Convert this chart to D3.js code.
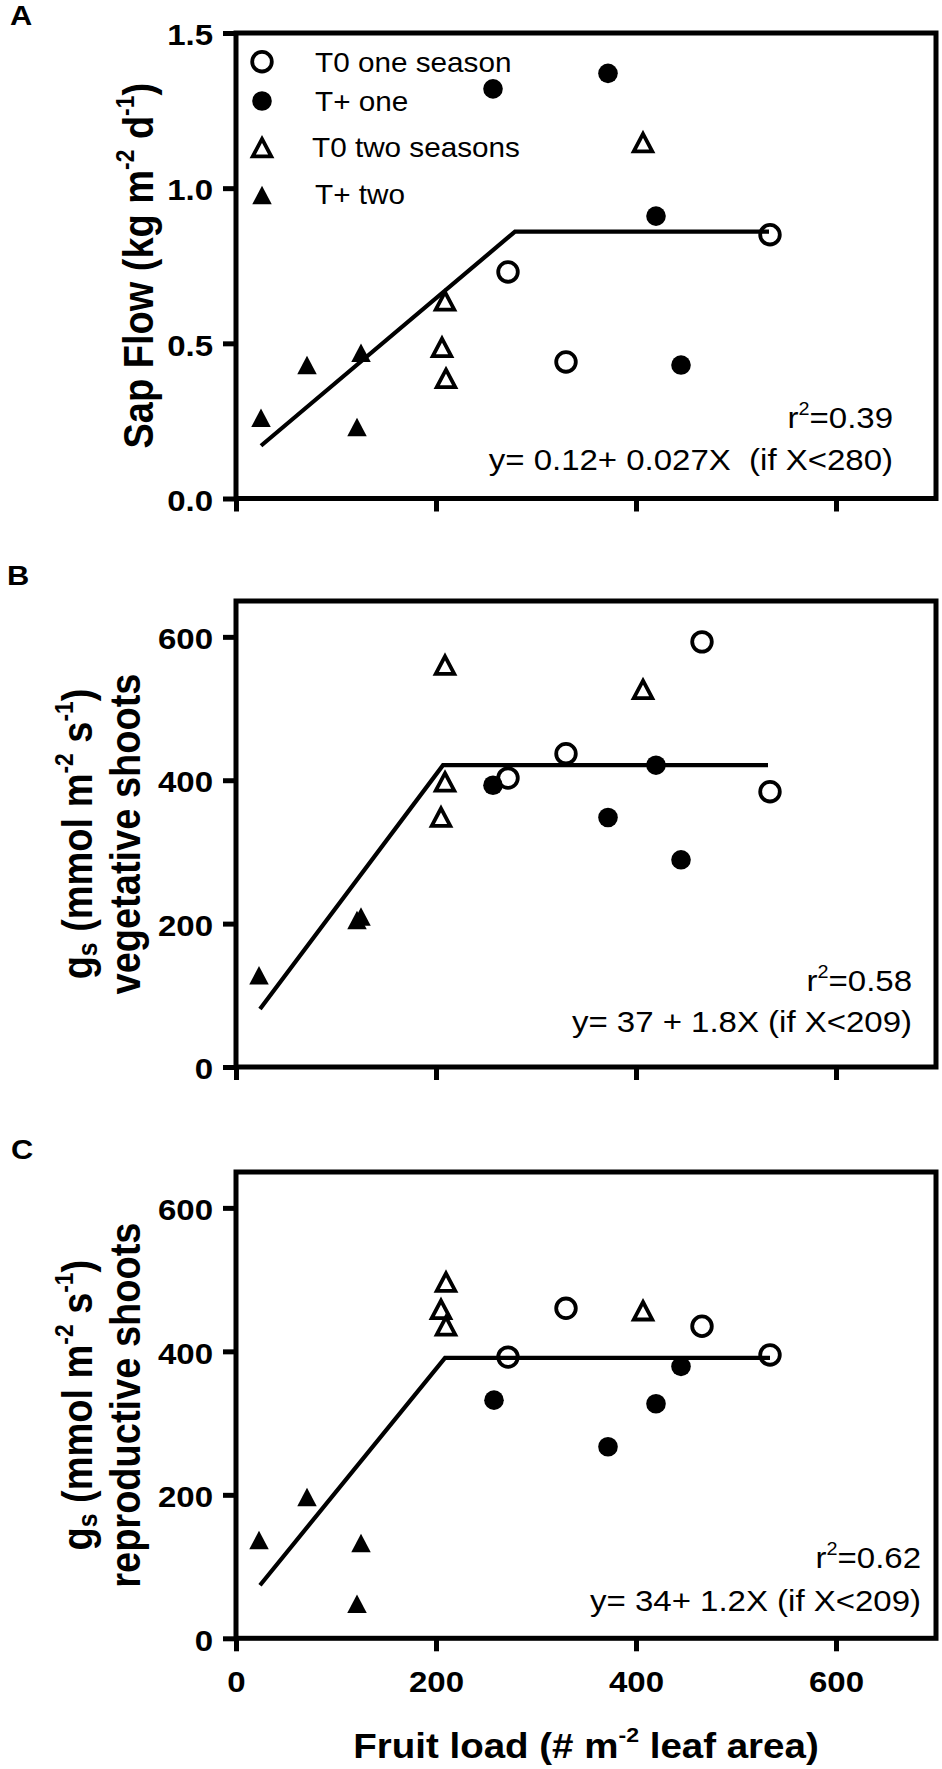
<!DOCTYPE html>
<html>
<head>
<meta charset="utf-8">
<script src="https://cdn.jsdelivr.net/npm/d3@7"></script>
<style>
html,body{margin:0;padding:0;background:#fff;}
svg{display:block;}
text{white-space:pre;}
</style>
</head>
<body>
<svg id="chart" width="942" height="1769"></svg>
<script>
// ---------------- DATA ----------------
const xTickValues = [0, 200, 400, 600];
const sapYTicks = [0, 0.5, 1.0, 1.5];
const gsYTicks = [0, 200, 400, 600];
const legendLabels = ["T0 one season", "T+ one", "T0 two seasons", "T+ two"];

// Panel A: sap flow (kg m-2 d-1) vs fruit load
const sapT0One     = [[272, 0.73], [330, 0.44], [534, 0.85]];
const sapTplusOne  = [[257, 1.32], [372, 1.37], [420, 0.91], [445, 0.43]];
const sapT0Two     = [[209, 0.64], [206, 0.49], [210, 0.39], [407, 1.15]];
const sapTplusTwo  = [[25, 0.26], [71, 0.43], [125, 0.47], [121, 0.23]];
const sapFit       = [[25, 0.17], [279, 0.86], [533, 0.86]];

// Panel B: gs vegetative shoots
const vegT0One     = [[272, 403], [330, 437], [466, 593], [534, 384]];
const vegTplusOne  = [[257, 393], [372, 348], [420, 421], [445, 289]];
const vegT0Two     = [[209, 562], [209, 399], [205, 350], [407, 528]];
const vegTplusTwo  = [[23, 128], [121, 205], [125, 210]];
const vegFit       = [[24, 81], [207, 421], [532, 421]];

// Panel C: gs reproductive shoots
const repT0One     = [[272, 392], [330, 460], [466, 435], [534, 395]];
const repTplusOne  = [[258, 332], [372, 267], [420, 327], [445, 379]];
const repT0Two     = [[210, 498], [205, 460], [210, 437], [407, 458]];
const repTplusTwo  = [[23, 137], [71, 197], [125, 133], [121, 48]];
const repFit       = [[24, 74], [209, 391], [534, 391]];

const r2Values = ["0.39", "0.58", "0.62"];
const equations = ["y= 0.12+ 0.027X  (if X<280)", "y= 37 + 1.8X (if X<209)", "y= 34+ 1.2X (if X<209)"];

// ---------------- DRAWING ----------------
const FONT = "'Liberation Sans', Arial, Helvetica, sans-serif";
const SX = 1.1; // horizontal text stretch seen in the reference
const svg = d3.select("#chart");
svg.append("rect").attr("width", 942).attr("height", 1769).attr("fill", "#fff");

function addText(parent, x, y, parts, o) {
  const t = parent.append("text")
    .attr("transform", `translate(${x},${y}) scale(${SX},1)` + (o.rotate ? ` rotate(${o.rotate})` : ""))
    .attr("text-anchor", o.anchor || "start")
    .attr("font-family", FONT)
    .attr("font-size", o.size)
    .attr("font-weight", o.weight || "normal")
    .attr("fill", "#000");
  let shift = 0;
  (typeof parts === "string" ? [{t: parts}] : parts).forEach(p => {
    const target = p.sup ? -0.45 * o.size : (p.sub ? 0.12 * o.size : 0);
    const ts = t.append("tspan").text(p.t).attr("dy", target - shift);
    if (p.sup) ts.attr("font-size", o.size * 0.6);
    if (p.sub) ts.attr("font-size", o.size * 0.65);
    shift = target;
  });
  return t;
}

function drawMarker(g, type, cx, cy) {
  if (type === 0) {
    g.append("circle").attr("cx", cx).attr("cy", cy).attr("r", 9.8)
      .attr("fill", "#fff").attr("stroke", "#000").attr("stroke-width", 3.8);
  } else if (type === 1) {
    g.append("circle").attr("cx", cx).attr("cy", cy).attr("r", 9.8).attr("fill", "#000");
  } else if (type === 2) {
    const w = 18.5, h = 17.5;
    g.append("path")
      .attr("d", `M${cx},${cy - h / 2 + 1}L${cx + w / 2},${cy + h / 2 + 1}L${cx - w / 2},${cy + h / 2 + 1}Z`)
      .attr("fill", "#fff").attr("stroke", "#000").attr("stroke-width", 3.8)
      .attr("stroke-linejoin", "miter");
  } else {
    const w = 19.5, h = 18.5;
    g.append("path")
      .attr("d", `M${cx},${cy - h / 2}L${cx + w / 2},${cy + h / 2}L${cx - w / 2},${cy + h / 2}Z`)
      .attr("fill", "#000");
  }
}

const x = d3.scaleLinear().domain([0, 700]).range([236, 936]);

const panels = [
  {
    letter: "A", letterY: 25, letterX: 10,
    top: 33, bottom: 498.5, yDomain: [0, 1.5], yTicks: sapYTicks, fmt: d3.format(".1f"),
    series: [sapT0One, sapTplusOne, sapT0Two, sapTplusTwo], fit: sapFit,
    annotRight: 893, r2Base: 428, eqBase: 470,
    titles: [
      {x: 153, parts: [{t: "Sap Flow (kg m"}, {t: "-2", sup: true}, {t: " d"}, {t: "-1", sup: true}, {t: ")"}]}
    ],
    legend: true, xLabels: false
  },
  {
    letter: "B", letterY: 585, letterX: 7,
    top: 601, bottom: 1067, yDomain: [0, 650], yTicks: gsYTicks, fmt: d3.format("d"),
    series: [vegT0One, vegTplusOne, vegT0Two, vegTplusTwo], fit: vegFit,
    annotRight: 912, r2Base: 991, eqBase: 1032,
    titles: [
      {x: 92, parts: [{t: "g"}, {t: "s", sub: true}, {t: " (mmol m"}, {t: "-2", sup: true}, {t: " s"}, {t: "-1", sup: true}, {t: ")"}]},
      {x: 140, parts: "vegetative shoots"}
    ],
    legend: false, xLabels: false
  },
  {
    letter: "C", letterY: 1159, letterX: 11,
    top: 1172, bottom: 1638.3, yDomain: [0, 650], yTicks: gsYTicks, fmt: d3.format("d"),
    series: [repT0One, repTplusOne, repT0Two, repTplusTwo], fit: repFit,
    annotRight: 921, r2Base: 1568, eqBase: 1611,
    titles: [
      {x: 92, parts: [{t: "g"}, {t: "s", sub: true}, {t: " (mmol m"}, {t: "-2", sup: true}, {t: " s"}, {t: "-1", sup: true}, {t: ")"}]},
      {x: 140, parts: "reproductive shoots"}
    ],
    legend: false, xLabels: true
  }
];

const LW = 5;

panels.forEach((p, pi) => {
  const y = d3.scaleLinear().domain(p.yDomain).range([p.bottom, p.top]);
  const g = svg.append("g");

  // panel letter
  addText(g, p.letterX, p.letterY, p.letter, {size: 28, weight: "bold"});

  // y axis
  const ya = g.append("g").attr("transform", `translate(${x(0)},0)`)
    .call(d3.axisLeft(y).tickValues(p.yTicks).tickSizeInner(13).tickSizeOuter(0).tickPadding(10).tickFormat(p.fmt));
  ya.select(".domain").remove();
  ya.selectAll(".tick line").attr("stroke", "#000").attr("stroke-width", LW);
  ya.attr("font-family", FONT).attr("font-size", 30).attr("font-weight", "bold");
  ya.selectAll(".tick text").attr("fill", "#000").attr("dy", "0.39em").each(function () {
    const tx = +this.getAttribute("x") || 0;
    d3.select(this).attr("x", 0).attr("transform", `translate(${tx},0) scale(${SX},1)`);
  });

  // x axis
  const xa = g.append("g").attr("transform", `translate(0,${p.bottom})`)
    .call(d3.axisBottom(x).tickValues(xTickValues).tickSizeInner(13).tickSizeOuter(0).tickPadding(19)
      .tickFormat(p.xLabels ? d3.format("d") : () => ""));
  xa.select(".domain").remove();
  xa.selectAll(".tick line").attr("stroke", "#000").attr("stroke-width", LW);
  xa.attr("font-family", FONT).attr("font-size", 30).attr("font-weight", "bold");
  xa.selectAll(".tick text").attr("fill", "#000").each(function () {
    const ty = +this.getAttribute("y") || 0;
    d3.select(this).attr("y", 0).attr("transform", `translate(0,${ty}) scale(${SX},1)`);
  });

  // frame
  g.append("rect").attr("x", x(0)).attr("y", p.top)
    .attr("width", x(700) - x(0)).attr("height", p.bottom - p.top)
    .attr("fill", "none").attr("stroke", "#000").attr("stroke-width", LW);

  // y titles
  const cy = (p.top + p.bottom) / 2;
  p.titles.forEach(tt => {
    addText(g, tt.x, cy, tt.parts, {size: 38, weight: "bold", anchor: "middle", rotate: -90});
  });

  // markers
  p.series.forEach((s, si) => {
    s.forEach(d => drawMarker(g, si, x(d[0]), y(d[1])));
  });

  // fit line
  g.append("path").datum(p.fit)
    .attr("d", d3.line().x(d => x(d[0])).y(d => y(d[1])))
    .attr("fill", "none").attr("stroke", "#000").attr("stroke-width", 4.2)
    .attr("stroke-linejoin", "miter");

  // annotations
  addText(g, p.annotRight, p.r2Base, [{t: "r"}, {t: "2", sup: true}, {t: "=" + r2Values[pi]}], {size: 30, anchor: "end"});
  addText(g, p.annotRight, p.eqBase, equations[pi], {size: 30, anchor: "end"});

  // legend
  if (p.legend) {
    const symY = [61.7, 101, 146.7, 195];
    const txtY = [72, 110.5, 157, 204];
    legendLabels.forEach((lab, i) => {
      drawMarker(g, i, 262, symY[i]);
      addText(g, i === 2 ? 312 : 315, txtY[i], lab, {size: 27});
    });
  }
});

// x axis title
addText(svg, 586, 1758, [{t: "Fruit load (# m"}, {t: "-2", sup: true}, {t: " leaf area)"}], {size: 35, weight: "bold", anchor: "middle"});
</script>
</body>
</html>
